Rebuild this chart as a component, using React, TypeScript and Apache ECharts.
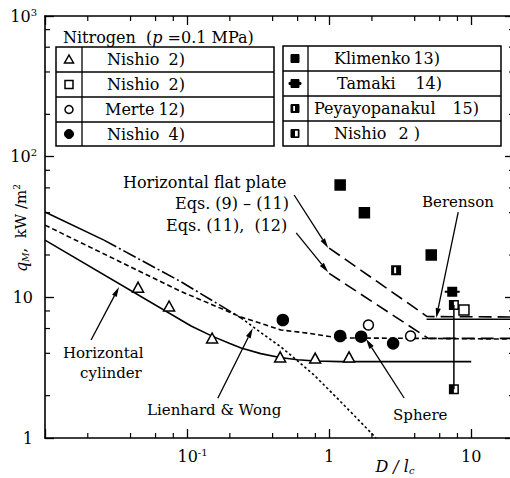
import React, { useEffect, useRef } from 'react';
import * as echarts from 'echarts';

const FONT = "'DejaVu Serif', 'Liberation Serif', serif";
const X_MIN = 0.01;
const X_MAX = 20;
const Y_MIN = 1;
const Y_MAX = 1000;

const xMinorTicks = [0.02, 0.04, 0.06, 0.08, 0.2, 0.4, 0.6, 0.8, 2, 4, 6, 8];
const yMinorTicks = [2, 4, 6, 8, 20, 40, 60, 80, 200, 400, 600, 800];

// experimental points [D/lc, qM]
const nishio2Tri = [[0.0452, 11.8], [0.0747, 8.68], [0.15, 5.14], [0.452, 3.77], [0.797, 3.7], [1.38, 3.77]];
const nishio2Sq = [[8.89, 8.13]];
const merte12 = [[1.89, 6.36], [3.74, 5.31]];
const nishio4 = [[0.472, 6.9], [1.195, 5.31], [1.68, 5.25], [2.82, 4.71]];
const klimenko13 = [[1.195, 62.9], [1.77, 40.0], [5.23, 20.0]];
const tamaki14 = [[7.35, 10.96]];
const peyayopanakul15 = [[2.96, 15.6]];
const nishio2Half = [[7.55, 8.82], [7.55, 2.22]];

// correlation curves
const cylinder = [[0.01, 25.5], [0.1067, 6.25], [0.15, 5.3], [0.2, 4.7], [0.24, 4.36], [0.33, 3.98], [0.45, 3.73], [0.6, 3.6], [0.8, 3.53], [1.2, 3.49], [10, 3.49]];
const lwSolid = [[0.01, 40.4], [0.026, 25.5]];
const lwDashDot = [[0.026, 25.5], [0.0907, 12.9], [0.15, 9.5], [0.24, 7.13]];
const lwDotted = [[0.24, 7.13], [0.35, 5.39], [0.459, 4.43], [0.6, 3.53], [0.784, 2.8], [1.2, 1.82], [2.14, 1]];
const sphere = [[0.01, 32.6], [0.0907, 11.0], [0.15, 8.87], [0.24, 7.24], [0.35, 6.41], [0.459, 5.86], [0.7, 5.57], [1.15, 5.15], [20, 5.05]];
const plate911 = [[1, 22.4], [4.9, 7.3], [20, 7.25]];
const plate1112 = [[1, 14.8], [4.98, 5.11], [20, 5.11]];
const berenson = [[4.85, 6.98], [20, 6.98]];

// annotation arrows [x1, y1, x2, y2]
const arrows = [
  [0.0211, 4.97, 0.0332, 11.84],
  [0.1645, 1.915, 0.29, 6.02],
  [3.37, 1.925, 1.82, 5.05],
  [8.1, 40.4, 5.67, 7.13],
  [0.567, 53.4, 0.984, 22.4],
  [0.586, 28.7, 0.984, 15.1],
];

const TAMAKI_SYM = 'path://M0,4H2V0H10V4H12V6H10V10H2V6H0Z';
const PEY_SYM = 'path://M0,0H10V10H0Z M3,2V8H5V2Z';
const NHALF_SYM = 'path://M0,0H10V10H0Z M5,1.5V8.5H8.5V1.5Z';

function isPow10(v: number) {
  const l = Math.log10(v);
  return Math.abs(l - Math.round(l)) < 1e-6 ? Math.round(l) : null;
}

function legendSymbol(kind: string, cx: number, cy: number): any[] {
  const st = { fill: '#fff', stroke: '#000', lineWidth: 1.5 };
  const blk = { fill: '#000', stroke: '#000', lineWidth: 1 };
  switch (kind) {
    case 'tri':
      return [{ type: 'polygon', shape: { points: [[cx, cy - 4.5], [cx + 4.5, cy + 3.5], [cx - 4.5, cy + 3.5]] }, style: st }];
    case 'sq':
      return [{ type: 'rect', shape: { x: cx - 4, y: cy - 4, width: 8, height: 8 }, style: st }];
    case 'circ':
      return [{ type: 'circle', shape: { cx, cy, r: 4 }, style: st }];
    case 'dot':
      return [{ type: 'circle', shape: { cx, cy, r: 4.5 }, style: blk }];
    case 'fsq':
      return [{ type: 'rect', shape: { x: cx - 4, y: cy - 4, width: 8, height: 8 }, style: blk }];
    case 'tam':
      return [{ type: 'polygon', shape: { points: [[cx - 6, cy - 1], [cx - 4, cy - 1], [cx - 4, cy - 4], [cx + 4, cy - 4], [cx + 4, cy - 1], [cx + 6, cy - 1], [cx + 6, cy + 1], [cx + 4, cy + 1], [cx + 4, cy + 4], [cx - 4, cy + 4], [cx - 4, cy + 1], [cx - 6, cy + 1]] }, style: blk }];
    case 'pey':
      return [
        { type: 'rect', shape: { x: cx - 4, y: cy - 4, width: 8, height: 8 }, style: blk },
        { type: 'rect', shape: { x: cx - 1.8, y: cy - 2.5, width: 1.8, height: 5 }, style: { fill: '#fff' } },
      ];
    case 'nhalf':
      return [
        { type: 'rect', shape: { x: cx - 4, y: cy - 4, width: 8, height: 8 }, style: blk },
        { type: 'rect', shape: { x: cx, y: cy - 2.8, width: 2.8, height: 5.6 }, style: { fill: '#fff' } },
      ];
  }
  return [];
}

function txt(text: string, x: number, y: number, size = 16, align = 'left', extra: any = {}) {
  return {
    type: 'text', x, y, z: 10,
    style: { text, fill: '#000', fontSize: size, fontFamily: FONT, align, verticalAlign: 'middle', ...extra },
  };
}

export default function App() {
  const ref = useRef<HTMLDivElement>(null);
  useEffect(() => {
    if (!ref.current) return;
    const chart = echarts.init(ref.current, undefined, { renderer: 'svg' });

    const line = (data: number[][], type: any) => ({
      type: 'line', data, showSymbol: false, symbol: 'none', smooth: false,
      lineStyle: { color: '#000', width: 1.6, type }, silent: true, z: 2,
    });

    const graphics: any[] = [];
    graphics.push({ type: 'rect', shape: { x: 56, y: 47, width: 218, height: 99 }, style: { fill: 'none', stroke: '#000', lineWidth: 1.5 } });
    [72, 97, 122].forEach((y) => graphics.push({ type: 'line', shape: { x1: 56, y1: y, x2: 274, y2: y }, style: { stroke: '#000', lineWidth: 1.3 } }));
    graphics.push({ type: 'line', shape: { x1: 82, y1: 47, x2: 82, y2: 146 }, style: { stroke: '#000', lineWidth: 1.3 } });
    graphics.push({ type: 'rect', shape: { x: 283, y: 46, width: 218, height: 100 }, style: { fill: 'none', stroke: '#000', lineWidth: 1.5 } });
    [71, 96, 121].forEach((y) => graphics.push({ type: 'line', shape: { x1: 283, y1: y, x2: 501, y2: y }, style: { stroke: '#000', lineWidth: 1.3 } }));
    graphics.push({ type: 'line', shape: { x1: 308, y1: 46, x2: 308, y2: 146 }, style: { stroke: '#000', lineWidth: 1.3 } });

    const leftRows = [
      { sym: 'tri', name: 'Nishio', nx: 107, ref: '2)', y: 59.5 },
      { sym: 'sq', name: 'Nishio', nx: 107, ref: '2)', y: 84.5 },
      { sym: 'circ', name: 'Merte', nx: 105, ref: '12)', y: 109.5 },
      { sym: 'dot', name: 'Nishio', nx: 107, ref: '4)', y: 134 },
    ];
    leftRows.forEach((r) => {
      graphics.push(...legendSymbol(r.sym, 69, r.y));
      graphics.push(txt(r.name, r.nx, r.y));
      graphics.push(txt(r.ref, 185, r.y, 16, 'right'));
    });
    const rightRows = [
      { sym: 'fsq', name: 'Klimenko', nx: 334, ref: '13)', rx: 440, y: 58.5 },
      { sym: 'tam', name: 'Tamaki', nx: 337, ref: '14)', rx: 442, y: 83.5 },
      { sym: 'pey', name: 'Peyayopanakul', nx: 314, ref: '15)', rx: 479, y: 108.5 },
      { sym: 'nhalf', name: 'Nishio', nx: 334, ref: '2 )', rx: 420, y: 133.5 },
    ];
    rightRows.forEach((r) => {
      graphics.push(...legendSymbol(r.sym, 295, r.y));
      graphics.push(txt(r.name, r.nx, r.y));
      graphics.push(txt(r.ref, r.rx, r.y, 16, 'right'));
    });

    graphics.push(txt('{n|Nitrogen  (}{i|p}{n| =0.1 MPa)}', 63, 37, 16, 'left', {
      rich: {
        n: { fontSize: 16, fontFamily: FONT, fill: '#000' },
        i: { fontSize: 16, fontFamily: FONT, fontStyle: 'italic', fill: '#000' },
      },
    }));

    graphics.push(txt('Horizontal flat plate', 123, 182));
    graphics.push(txt('Eqs. (9) \u2013 (11)', 175, 203));
    graphics.push(txt('Eqs. (11),  (12)', 166, 225));
    graphics.push(txt('Berenson', 422, 202, 15));
    graphics.push(txt('Sphere', 393, 415, 15));
    graphics.push(txt('Lienhard & Wong', 147, 410, 15));
    graphics.push(txt('Horizontal', 63, 353, 15));
    graphics.push(txt('cylinder', 80, 373, 15));

    graphics.push({
      type: 'text', x: 21, y: 228, rotation: Math.PI / 2, z: 10,
      style: {
        text: '{i|q}{sub|M}{n|,  kW /m}{sup|2}', align: 'center', verticalAlign: 'middle', fill: '#000',
        rich: {
          i: { fontSize: 16, fontFamily: FONT, fontStyle: 'italic', lineHeight: 18, fill: '#000' },
          n: { fontSize: 15, fontFamily: FONT, lineHeight: 18, fill: '#000' },
          sub: { fontSize: 9, fontFamily: FONT, fontStyle: 'italic', lineHeight: 9, verticalAlign: 'bottom', fill: '#000' },
          sup: { fontSize: 9, fontFamily: FONT, lineHeight: 9, verticalAlign: 'top', fill: '#000' },
        },
      },
    });
    graphics.push({
      type: 'text', x: 395, y: 466, z: 10,
      style: {
        text: '{i|D / l}{sub|c}', align: 'center', verticalAlign: 'middle', fill: '#000',
        rich: {
          i: { fontSize: 16, fontFamily: FONT, fontStyle: 'italic', lineHeight: 18, fill: '#000' },
          sub: { fontSize: 10, fontFamily: FONT, fontStyle: 'italic', lineHeight: 10, verticalAlign: 'bottom', fill: '#000' },
        },
      },
    });

    const labelRich = {
      b: { fontSize: 16, fontFamily: FONT, lineHeight: 18, color: '#000' },
      s: { fontSize: 10, fontFamily: FONT, lineHeight: 10, verticalAlign: 'top', color: '#000' },
      p: { width: 11, lineHeight: 18 },
      q: { width: 4, lineHeight: 18 },
    };

    const axisCommon = {
      type: 'log', logBase: 10,
      axisLine: { show: true, onZero: false, lineStyle: { color: '#000', width: 1.6 } },
      axisTick: { show: true, inside: true, length: 9, lineStyle: { color: '#000', width: 1.3 } },
      splitLine: { show: false },
      minorTick: { show: false },
    };

    const tickRender = (isX: boolean) => (params: any, api: any) => {
      const v = api.value(isX ? 0 : 1);
      const a = isX ? api.coord([v, Y_MIN]) : api.coord([X_MIN, v]);
      const b = isX ? api.coord([v, Y_MAX]) : api.coord([X_MAX, v]);
      const L = 5;
      const st = { stroke: '#000', lineWidth: 1.2 };
      return {
        type: 'group',
        children: isX
          ? [
              { type: 'line', shape: { x1: a[0], y1: a[1], x2: a[0], y2: a[1] - L }, style: st },
              { type: 'line', shape: { x1: b[0], y1: b[1], x2: b[0], y2: b[1] + L }, style: st },
            ]
          : [
              { type: 'line', shape: { x1: a[0], y1: a[1], x2: a[0] + L, y2: a[1] }, style: st },
              { type: 'line', shape: { x1: b[0], y1: b[1], x2: b[0] - L, y2: b[1] }, style: st },
            ],
      };
    };

    const arrowRender = (params: any, api: any) => {
      const p1 = api.coord([api.value(0), api.value(1)]);
      const p2 = api.coord([api.value(2), api.value(3)]);
      const dx = p2[0] - p1[0];
      const dy = p2[1] - p1[1];
      const len = Math.hypot(dx, dy);
      const ux = dx / len;
      const uy = dy / len;
      const hl = 10;
      const hw = 2.6;
      const bx = p2[0] - ux * hl;
      const by = p2[1] - uy * hl;
      return {
        type: 'group',
        children: [
          { type: 'line', shape: { x1: p1[0], y1: p1[1], x2: bx, y2: by }, style: { stroke: '#000', lineWidth: 1.3 } },
          { type: 'polygon', shape: { points: [[p2[0], p2[1]], [bx - uy * hw, by + ux * hw], [bx + uy * hw, by - ux * hw]] }, style: { fill: '#000' } },
        ],
      };
    };

    const scatterStyle = (fill: string) => ({ color: fill, borderColor: '#000', borderWidth: 1.5, opacity: 1 });

    chart.setOption({
      animation: false,
      backgroundColor: '#fff',
      grid: { left: 45, top: 16, width: 469, height: 422, containLabel: false },
      xAxis: [
        {
          ...axisCommon, min: X_MIN, max: X_MAX, position: 'bottom',
          axisLabel: {
            show: true, margin: 9, color: '#000', fontSize: 16, fontFamily: FONT, rich: labelRich,
            formatter: (v: number) => {
              const e = isPow10(v);
              if (e === -1) return '{p|}{b|10}{s|-1}';
              if (e === 0) return '{b|1}';
              if (e === 1) return '{b|10}';
              return '';
            },
          },
        },
        { ...axisCommon, min: X_MIN, max: X_MAX, position: 'top', axisLabel: { show: false } },
      ],
      yAxis: [
        {
          ...axisCommon, min: Y_MIN, max: Y_MAX, position: 'left',
          axisLabel: {
            show: true, margin: 8, color: '#000', fontSize: 16, fontFamily: FONT, rich: labelRich,
            formatter: (v: number) => {
              const e = isPow10(v);
              if (e === 0) return '{b|1}{q|}';
              if (e === 1) return '{b|10}{q|}';
              if (e === 2) return '{b|10}{s|2}';
              if (e === 3) return '{b|10}{s|3}';
              return '';
            },
          },
        },
        { ...axisCommon, min: Y_MIN, max: Y_MAX, position: 'right', axisLabel: { show: false } },
      ],
      graphic: graphics,
      series: [
        { type: 'custom', renderItem: tickRender(true), data: xMinorTicks.map((v) => [v, Y_MIN]), encode: { x: 0, y: 1 }, silent: true, clip: false },
        { type: 'custom', renderItem: tickRender(false), data: yMinorTicks.map((v) => [X_MIN, v]), encode: { x: 0, y: 1 }, silent: true, clip: false },
        line(cylinder, 'solid'),
        line(lwSolid, 'solid'),
        line(lwDashDot, [14, 3, 2, 3]),
        line(lwDotted, [2.5, 2.5]),
        line(sphere, [5, 3]),
        line(plate911, [13, 6]),
        line(plate1112, [13, 6]),
        line(berenson, 'solid'),
        { type: 'custom', renderItem: arrowRender, data: arrows, encode: { x: [0, 2], y: [1, 3] }, silent: true, clip: false, z: 3 },
        { type: 'scatter', data: nishio2Tri, symbol: 'triangle', symbolSize: [11, 10], itemStyle: scatterStyle('#fff'), z: 5 },
        { type: 'scatter', data: nishio2Sq, symbol: 'rect', symbolSize: 10, itemStyle: scatterStyle('#fff'), z: 5 },
        { type: 'scatter', data: merte12, symbol: 'circle', symbolSize: 10, itemStyle: scatterStyle('#fff'), z: 5 },
        { type: 'scatter', data: nishio4, symbol: 'circle', symbolSize: 11, itemStyle: scatterStyle('#000'), z: 5 },
        { type: 'scatter', data: klimenko13, symbol: 'rect', symbolSize: 10, itemStyle: scatterStyle('#000'), z: 5 },
        { type: 'scatter', data: tamaki14, symbol: TAMAKI_SYM, symbolSize: [15, 10], itemStyle: { color: '#000', opacity: 1 }, z: 5 },
        { type: 'scatter', data: peyayopanakul15, symbol: PEY_SYM, symbolSize: 10, itemStyle: { color: '#000', opacity: 1 }, z: 5 },
        {
          type: 'line', data: nishio2Half, symbol: NHALF_SYM, symbolSize: 10, showSymbol: true,
          lineStyle: { color: '#000', width: 1.5 }, itemStyle: { color: '#000', opacity: 1 }, z: 5,
        },
      ],
    });
    return () => chart.dispose();
  }, []);

  return (
    <div style={{ position: 'fixed', left: 0, top: 0, width: 510, height: 478, overflow: 'hidden', background: '#fff' }}>
      <div ref={ref} style={{ width: 520, height: 478 }} />
    </div>
  );
}
